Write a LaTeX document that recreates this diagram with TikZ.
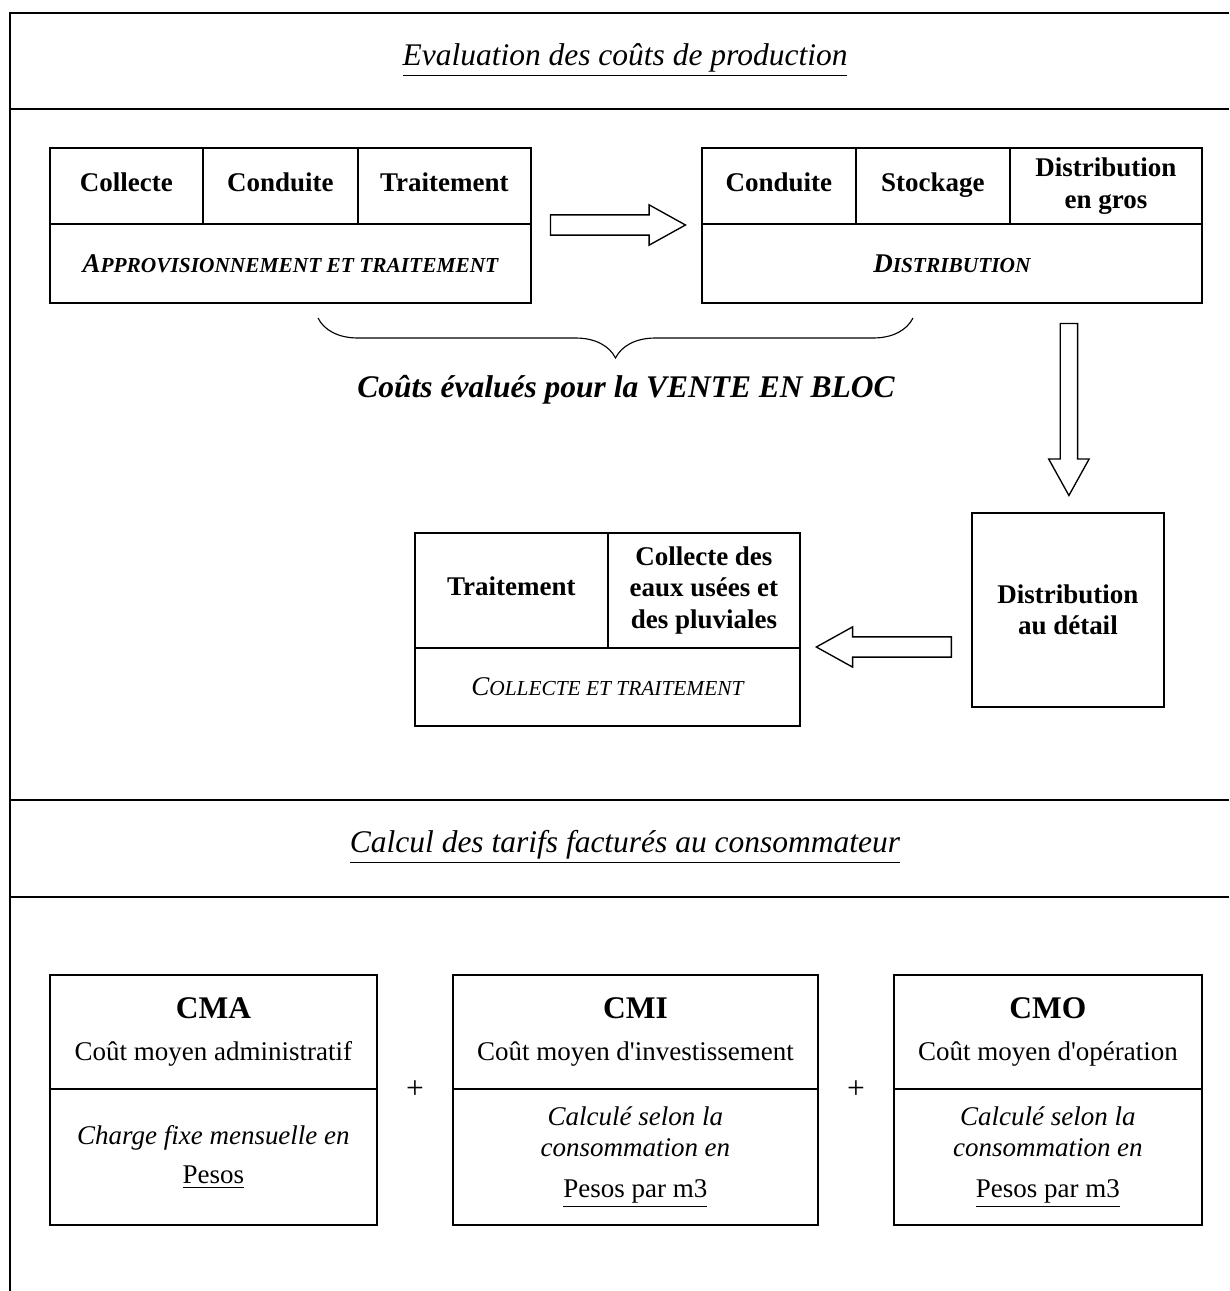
\documentclass[tikz,border=0pt]{standalone}
\usepackage{fontspec}
\setmainfont{Liberation Serif}
\usepackage{tikz}
\usetikzlibrary{calc,shapes.arrows,decorations.pathreplacing}
\def\pxu{0.015625cm}
\newcommand\petcap[2]{#1{\fontsize{9.5}{11}\selectfont #2}}
\tikzset{
	cell/.style 2 args={draw, line width=0.8pt, anchor=north west, inner sep=0pt, align=center,
		minimum width=#1*\pxu, minimum height=#2*\pxu, font=\fontsize{12}{14}\selectfont},
	gras/.style={font=\fontsize{12}{14}\selectfont\bfseries},
	ital/.style={font=\fontsize{12}{14}\selectfont\itshape},
	grasital/.style={font=\fontsize{12}{14}\selectfont\bfseries\itshape},
	uneligne/.style={text height=0.7em, text depth=0.22em},
	ligne/.style={line width=0.6pt},
	titre/.style={font=\fontsize{14}{16}\selectfont\itshape},
	bloc/.style={draw, line width=0.6pt, single arrow, single arrow head extend=0.156cm,
		single arrow tip angle=58, inner xsep=0pt, inner ysep=0.148cm, minimum width=0.61cm, anchor=tail},
	signe/.style={font=\fontsize{14}{16}\selectfont}
}

\begin{document}
\begin{tikzpicture}[x=\pxu, y=-\pxu]
			%%%%% START %%%%%
			\useasboundingbox (0,0) rectangle (1229,1291);
			
			\draw[ligne] (1229,13) -- (10,13) -- (10,1291);
			\draw[ligne] (10,109) -- (1229,109);
			\draw[ligne] (10,800) -- (1229,800);
			\draw[ligne] (10,897) -- (1229,897);
			
			\node[titre] (evaluation) at (625,60) {\underline{Evaluation des coûts de production}};
			\node[titre] (calcul) at (625,847) {\underline{Calcul des tarifs facturés au consommateur}};
			
			\node[cell={153}{76}, gras, uneligne] (collecte) at (49,147) {Collecte};
			\node[cell={155}{76}, gras, uneligne] (conduite) at (202,147) {Conduite};
			\node[cell={173}{76}, gras, uneligne] (traitement) at (357,147) {Traitement};
			\node[cell={481}{79}, grasital] (appro) at (49,223) {\petcap{A}{PPROVISIONNEMENT ET TRAITEMENT}};
			
			\node[cell={154}{76}, gras, uneligne] (conduiteB) at (701,147) {Conduite};
			\node[cell={154}{76}, gras, uneligne] (stockage) at (855,147) {Stockage};
			\node[cell={192}{76}, gras] (engros) at (1009,147) {Distribution\\en gros};
			\node[cell={500}{79}, grasital] (distribution) at (701,223) {\petcap{D}{ISTRIBUTION}};
			
			\node[bloc, minimum height=135*\pxu] (flecheA) at ($(appro.north east)+(18,2)$) {};
			
			\coordinate (accoladeG) at (318,318);
			\coordinate (accoladeD) at (913,318);
			\draw[line width=0.5pt, decorate, decoration={brace, mirror, amplitude=0.625cm}] (accoladeG) -- (accoladeD);
			\node[font=\fontsize{14}{16}\selectfont\bfseries\itshape] (vente) at (626,390) {Coûts évalués pour la VENTE EN BLOC};
			
			\node[cell={192}{194}, gras] (detail) at (971,512) {Distribution\\au détail};
			\node[bloc, shape border rotate=270, inner xsep=0.125cm, inner ysep=0pt, single arrow head extend=0.18cm, minimum height=172*\pxu] (flecheB) at ($(detail.north |- distribution.south)+(1,19)$) {};
			
			\node[cell={193}{115}, gras, uneligne] (traitementC) at (414,532) {Traitement};
			\node[cell={192}{115}, gras] (eaux) at (607,532) {Collecte des\\eaux usées et\\des pluviales};
			\node[cell={385}{78}, ital] (collecteTrait) at (414,647) {\petcap{C}{OLLECTE ET TRAITEMENT}};
			
			\node[bloc, shape border rotate=180, minimum height=135*\pxu] (flecheC) at ($(detail.west |- collecteTrait.north)+(-19,0)$) {};
			
			%%%%% TARIFS %%%%%
			\node[cell={327}{114}] (cma) at (49,974) {{\fontsize{14}{16}\selectfont\bfseries CMA}\\[5pt] Coût moyen administratif};
			\node[cell={327}{136}, ital] (cmaBas) at (49,1088) {Charge fixe mensuelle en\\[3.5pt] \upshape\underline{Pesos}};
			
			\node[cell={365}{114}] (cmi) at (452,974) {{\fontsize{14}{16}\selectfont\bfseries CMI}\\[5pt] Coût moyen d\textquotesingle investissement};
			\node[cell={365}{136}, ital] (cmiBas) at (452,1088) {Calculé selon la\\consommation en\\[4pt] \upshape\underline{Pesos par m3}};
			
			\node[cell={308}{114}] (cmo) at (893,974) {{\fontsize{14}{16}\selectfont\bfseries CMO}\\[5pt] Coût moyen d\textquotesingle opération};
			\node[cell={308}{136}, ital] (cmoBas) at (893,1088) {Calculé selon la\\consommation en\\[4pt] \upshape\underline{Pesos par m3}};
			
			\node[signe] (plusA) at ($(cma.south east)!0.5!(cmi.south west)$) {+};
			\node[signe] (plusB) at ($(cmi.south east)!0.5!(cmo.south west)$) {+};
			
			%%%%% END %%%%%
\end{tikzpicture}
\end{document}
